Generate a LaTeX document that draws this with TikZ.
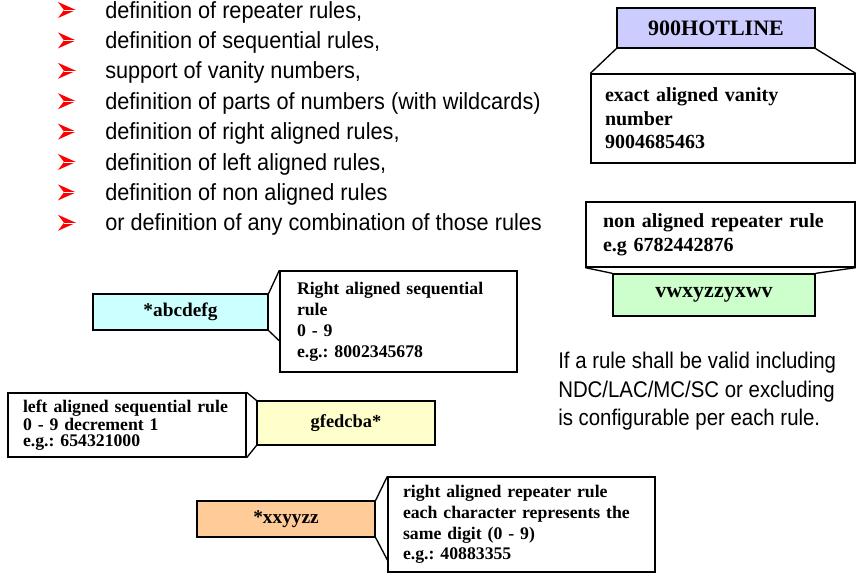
\documentclass[tikz,border=0pt]{standalone}
\usepackage{fontspec}
\setmainfont{Liberation Serif}
\newfontfamily\listfont[FakeStretch=0.93]{Liberation Sans}
\newfontfamily\remarkfont[FakeStretch=0.9]{Liberation Sans}
\usetikzlibrary{positioning}
\frenchspacing

\definecolor{hotlinefill}{RGB}{204,204,255}
\definecolor{nonalignfill}{RGB}{204,255,204}
\definecolor{rightseqfill}{RGB}{204,255,255}
\definecolor{leftseqfill}{RGB}{255,255,204}
\definecolor{repeatfill}{RGB}{255,204,153}

\tikzset{
  listitem/.style={font=\listfont\fontsize{17.5}{21}\selectfont,inner sep=0pt,anchor=base west},
  rulebox/.style={draw,line width=1pt,inner sep=0pt,font=\bfseries\fontsize{14.5}{17}\selectfont},
  notebox/.style={draw,line width=1pt,fill=white,align=left,inner ysep=0pt,
    font=\bfseries\fontsize{13.3}{15.75}\selectfont},
  bigbox/.style={rulebox,font=\bfseries\fontsize{16.5}{20}\selectfont},
  bignote/.style={notebox,font=\bfseries\fontsize{15}{17.6}\selectfont},
  link/.style={line width=1pt},
  pointer/.pic={
    \fill[red] (0,0) -- (-18,-8) -- (-12,0) -- (-18,8) -- cycle;
    \draw[white,line width=0.4pt] (-12,0) -- (0,0);
  }
}

\begin{document}
\begin{tikzpicture}[x=0.75pt,y=-0.75pt]
  \useasboundingbox (0,0) rectangle (857,576);

  % feature list
  \pic at (76,10) {pointer};
  \pic at (76,40.4) {pointer};
  \pic at (76,70.8) {pointer};
  \pic at (76,101.2) {pointer};
  \pic at (76,131.6) {pointer};
  \pic at (76,162) {pointer};
  \pic at (76,192.4) {pointer};
  \pic at (76,222.8) {pointer};
  \node[listitem] (item1) at (105,18) {definition of repeater rules,};
  \node[listitem] (item2) at (105,48.4) {definition of sequential rules,};
  \node[listitem] (item3) at (105,78.8) {support of vanity numbers,};
  \node[listitem] (item4) at (105,109.2) {definition of parts of numbers (with wildcards)};
  \node[listitem] (item5) at (105,139.6) {definition of right aligned rules,};
  \node[listitem] (item6) at (105,170) {definition of left aligned rules,};
  \node[listitem] (item7) at (105,200.4) {definition of non aligned rules};
  \node[listitem] (item8) at (105,230.8) {or definition of any combination of those rules};

  % exact vanity number
  \node[bigbox,fill=hotlinefill,minimum width=148.5pt,minimum height=30pt] (hotline) at (716,28) {900HOTLINE};
  \node[bignote,text width=177pt,inner xsep=10.5pt,minimum height=66.75pt] (exactnote) at (723,118.5)
    {exact aligned vanity\\number\\9004685463};
  \draw[link] (hotline.south west) -- (exactnote.north west);
  \draw[link] (hotline.south east) -- (exactnote.north east);

  % non aligned repeater
  \node[bignote,text width=176.25pt,inner xsep=12.75pt,minimum height=48.75pt,
    font=\bfseries\fontsize{15}{18}\selectfont] (nonalignnote) at (720.5,234.5)
    {non aligned repeater rule\\e.g 6782442876};
  \node[bigbox,fill=nonalignfill,minimum width=151.5pt,minimum height=31.5pt] (nonalign) at (714,295) {vwxyzzyxwv};
  \draw[link] (nonalignnote.south west) -- (nonalign.north west);
  \draw[link] (nonalignnote.south east) -- (nonalign.north east);

  % right aligned sequential
  \node[rulebox,fill=rightseqfill,minimum width=131.25pt,minimum height=27pt] (rightseq) at (180.5,312) {*abcdefg};
  \node[notebox,text width=152.25pt,inner xsep=12.75pt,minimum height=75.75pt] (rightseqnote) at (398.5,321.5)
    {Right aligned sequential\\rule\\0 - 9\\e.g.: 8002345678};
  \draw[link] (rightseq.north east) -- (rightseqnote.north west);
  \draw[link] (rightseq.south east) -- ([yshift=-14.5pt]rightseqnote.west);

  % left aligned sequential
  \node[notebox,text width=156pt,inner xsep=11.25pt,minimum height=48pt,
    font=\bfseries\fontsize{13.3}{12}\selectfont] (leftseqnote) at (127,425)
    {left aligned sequential rule\\0 - 9 decrement 1\\e.g.: 654321000};
  \node[rulebox,fill=leftseqfill,minimum width=133.5pt,minimum height=33pt,
    font=\bfseries\fontsize{13.8}{16}\selectfont] (leftseq) at (346,423) {gfedcba*};
  \draw[link] (leftseqnote.north east) -- (leftseq.north west);
  \draw[link] (leftseqnote.south east) -- (leftseq.south west);

  % right aligned repeater
  \node[rulebox,fill=repeatfill,minimum width=133.5pt,minimum height=27pt] (repeat) at (286,519) {*xxyyzz};
  \node[notebox,text width=177.75pt,inner xsep=11.25pt,minimum height=71.25pt,
    font=\bfseries\fontsize{13.3}{15.5}\selectfont] (repeatnote) at (521.5,524.5)
    {right aligned repeater rule\\each character represents the\\same digit (0 - 9)\\e.g.: 40883355};
  \draw[link] (repeat.north east) -- (repeatnote.north west);
  \draw[link] (repeat.south east) -- ([yshift=-26.6pt]repeatnote.west);

  % remark
  \node[listitem,anchor=north west,align=left,font=\remarkfont\fontsize{17}{21.4}\selectfont] (validnote) at (558,352)
    {If a rule shall be valid including\\NDC/LAC/MC/SC or excluding\\is configurable per each rule.};
\end{tikzpicture}
\end{document}
